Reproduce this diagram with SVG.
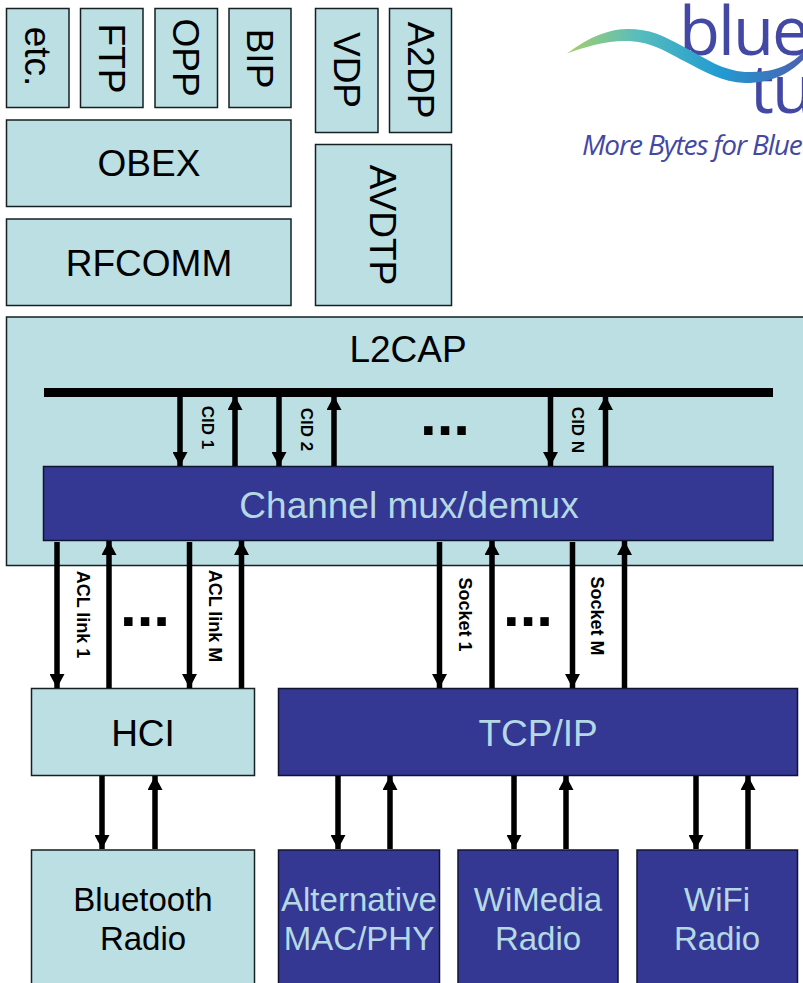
<svg xmlns="http://www.w3.org/2000/svg" width="803" height="983" viewBox="0 0 803 983">
<style>
text{font-family:"Liberation Sans",Arial,sans-serif;text-anchor:middle}
.l{fill:#bbdfe3;stroke:#152022;stroke-width:1.5}
.d{fill:#343893;stroke:#101430;stroke-width:1.5}
.tk{fill:#000;font-size:37px}
.tl{fill:#b5d9e4;font-size:37px}
.s{font-size:33px}
.lb{fill:#000;font-size:18px;font-weight:bold}
.cid{font-size:17px}
.dots{fill:#000;font-size:60px;font-weight:bold}
.a{stroke:#000;stroke-width:5.500;fill:none}
.bl{fill:#4248a4;font-family:"Open Sans","Noto Sans",sans-serif;text-anchor:start}
</style>
<defs>
<marker id="h" markerUnits="userSpaceOnUse" markerWidth="14" markerHeight="15" refX="14" refY="7.500" orient="auto"><path d="M0 0L14 7.500L0 15Z" fill="#000"/></marker>
<linearGradient id="w" x1="567" y1="0" x2="803" y2="0" gradientUnits="userSpaceOnUse"><stop offset="0" stop-color="#a5cf6a"/><stop offset=".3" stop-color="#58bdbd"/><stop offset=".65" stop-color="#219bd2"/><stop offset="1" stop-color="#4a62b0"/></linearGradient>
</defs>
<rect width="803" height="983" fill="#fff"/>
<g id="logo">
<text class="bl" x="679" y="55" font-size="67" font-weight="500" letter-spacing="-2">blue</text>
<text class="bl" x="750" y="113" font-size="67" font-weight="500" letter-spacing="-2">tu</text>
<path d="M567 53.500C590 36 610 29 628 29C650 29 662 35 684 47C708 60 722 70 745 72C770 73 788 68 803 52V60C788 75 770 83 745 83C722 82 705 72 684 61C665 51 650 41 625 41C605 41 585 47 567 53.500Z" fill="url(#w)"/>
<text class="bl" x="582" y="155" font-size="28" font-style="italic" letter-spacing="-1.100" font-weight="500">More Bytes for Bluet</text>
</g>
<g id="etc"><rect class="l" x="6.500" y="8.500" width="62.500" height="99"/><text class="tk" transform="translate(25,56.500) rotate(90)">etc.</text></g>
<g id="ftp"><rect class="l" x="80.500" y="8.500" width="62.500" height="99"/><text class="tk" transform="translate(99,58.500) rotate(90)">FTP</text></g>
<g id="opp"><rect class="l" x="155" y="8.500" width="62.500" height="99"/><text class="tk" transform="translate(173,57.500) rotate(90)">OPP</text></g>
<g id="bip"><rect class="l" x="229" y="8.500" width="62" height="99"/><text class="tk" transform="translate(247,58.500) rotate(90)">BIP</text></g>
<g id="vdp"><rect class="l" x="315.500" y="8.500" width="62.500" height="124"/><text class="tk" transform="translate(334,70) rotate(90)">VDP</text></g>
<g id="a2dp"><rect class="l" x="389.500" y="8.500" width="62" height="124"/><text class="tk" transform="translate(408,70) rotate(90)">A2DP</text></g>
<g id="obex"><rect class="l" x="6.500" y="120" width="284.500" height="86.500"/><text class="tk" x="149" y="176">OBEX</text></g>
<g id="rfcomm"><rect class="l" x="6.500" y="219" width="284.500" height="86.500"/><text class="tk" x="149" y="276">RFCOMM</text></g>
<g id="avdtp"><rect class="l" x="315.500" y="144.500" width="136" height="161"/><text class="tk" transform="translate(370,225) rotate(90)">AVDTP</text></g>
<g id="l2cap"><rect class="l" x="6.500" y="317" width="800" height="248.500"/><text class="tk" x="408" y="362">L2CAP</text></g>
<g id="channel-bus"><rect x="44" y="388" width="729" height="9" fill="#000"/></g>
<g id="mux"><rect class="d" x="43.500" y="466.500" width="729.500" height="74"/><text class="tl" x="409" y="518">Channel mux/demux</text></g>
<g id="hci"><rect class="l" x="31.500" y="688.500" width="223" height="87"/><text class="tk" x="143" y="746">HCI</text></g>
<g id="tcpip"><rect class="d" x="278.500" y="688.500" width="519" height="87"/><text class="tl" x="538" y="746">TCP/IP</text></g>
<g id="bt-radio"><rect class="l" x="31.500" y="850" width="223" height="140"/><text class="tk s" x="143" y="911">Bluetooth</text><text class="tk s" x="143" y="950">Radio</text></g>
<g id="alt-mac"><rect class="d" x="278.500" y="850" width="161" height="140"/><text class="tl s" x="359" y="911">Alternative</text><text class="tl s" x="359" y="950">MAC/PHY</text></g>
<g id="wimedia"><rect class="d" x="458" y="850" width="160" height="140"/><text class="tl s" x="538" y="911">WiMedia</text><text class="tl s" x="538" y="950">Radio</text></g>
<g id="wifi"><rect class="d" x="637" y="850" width="160.500" height="140"/><text class="tl s" x="717" y="911">WiFi</text><text class="tl s" x="717" y="950">Radio</text></g>
<g id="connectors">
<path class="a" marker-end="url(#h)" d="M180 397V466"/><path class="a" marker-end="url(#h)" d="M235 466V396"/>
<path class="a" marker-end="url(#h)" d="M279 397V466"/><path class="a" marker-end="url(#h)" d="M334 466V396"/>
<path class="a" marker-end="url(#h)" d="M550.500 397V466"/><path class="a" marker-end="url(#h)" d="M605.500 466V396"/>
<path class="a" marker-end="url(#h)" d="M57 542V688"/><path class="a" marker-end="url(#h)" d="M109 688V541"/>
<path class="a" marker-end="url(#h)" d="M189.500 542V688"/><path class="a" marker-end="url(#h)" d="M241.500 688V541"/>
<path class="a" marker-end="url(#h)" d="M439.500 542V688"/><path class="a" marker-end="url(#h)" d="M492 688V541"/>
<path class="a" marker-end="url(#h)" d="M572.500 542V688"/><path class="a" marker-end="url(#h)" d="M624.500 688V541"/>
<path class="a" marker-end="url(#h)" d="M102 776V849"/><path class="a" marker-end="url(#h)" d="M155 849V776"/>
<path class="a" marker-end="url(#h)" d="M338 776V849"/><path class="a" marker-end="url(#h)" d="M390 849V776"/>
<path class="a" marker-end="url(#h)" d="M514 776V849"/><path class="a" marker-end="url(#h)" d="M566 849V776"/>
<path class="a" marker-end="url(#h)" d="M696 776V849"/><path class="a" marker-end="url(#h)" d="M748 849V776"/>
<text class="lb cid" transform="translate(202,427.500) rotate(90)">CID 1</text>
<text class="lb cid" transform="translate(301,429.500) rotate(90)">CID 2</text>
<text class="lb cid" transform="translate(572,430) rotate(90)">CID N</text>
<text class="lb" transform="translate(77,614.500) rotate(90)">ACL link 1</text>
<text class="lb" transform="translate(209,616) rotate(90)">ACL link M</text>
<text class="lb" transform="translate(459,614.500) rotate(90)">Socket 1</text>
<text class="lb" transform="translate(591,616) rotate(90)">Socket M</text>
<text class="dots" x="445" y="435">...</text>
<text class="dots" x="145" y="626">...</text>
<text class="dots" x="528" y="626">...</text>
</g>
</svg>
